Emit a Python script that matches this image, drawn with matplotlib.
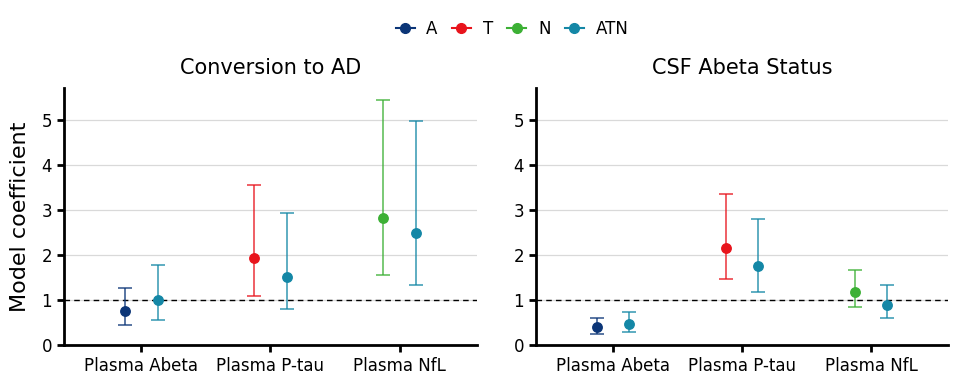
import numpy as np
import matplotlib
matplotlib.use("Agg")
import matplotlib.pyplot as plt
from matplotlib.lines import Line2D

plt.rcParams['font.family'] = ['DejaVu Sans']

markers = ["Plasma Abeta", "Plasma P-tau", "Plasma NfL"]
panels = ["Conversion to AD", "CSF Abeta Status"]
single_names = ["A", "T", "N"]

# single-marker model (A for Abeta, T for P-tau, N for NfL)
conv_single = [0.76, 1.93, 2.82]
conv_single_lo = [0.44, 1.09, 1.55]
conv_single_hi = [1.26, 3.57, 5.45]
# ATN model
conv_atn = [1.01, 1.51, 2.49]
conv_atn_lo = [0.56, 0.80, 1.33]
conv_atn_hi = [1.78, 2.95, 4.98]

csf_single = [0.40, 2.15, 1.19]
csf_single_lo = [0.24, 1.46, 0.84]
csf_single_hi = [0.60, 3.37, 1.68]
csf_atn = [0.47, 1.77, 0.90]
csf_atn_lo = [0.29, 1.19, 0.60]
csf_atn_hi = [0.74, 2.81, 1.33]

colors = {"A": "#0b3577", "T": "#e8141c", "N": "#3cb035", "ATN": "#1487a6"}

data = [
    (conv_single, conv_single_lo, conv_single_hi, conv_atn, conv_atn_lo, conv_atn_hi),
    (csf_single, csf_single_lo, csf_single_hi, csf_atn, csf_atn_lo, csf_atn_hi),
]

fig = plt.figure(figsize=(9.77, 3.91), dpi=100)
ax1 = fig.add_axes([0.0655, 0.1176, 0.4227, 0.657])
ax2 = fig.add_axes([0.5486, 0.1176, 0.4222, 0.657])

dodge = 0.125
cap = 4.7

def draw_point(ax, x, y, lo, hi, col):
    ax.errorbar([x], [y], yerr=[[y - lo], [hi - y]], fmt='none', ecolor=col,
                elinewidth=1.2, capsize=cap, capthick=1.2, alpha=0.8, zorder=3)
    ax.plot([x], [y], 'o', color=col, markersize=6.8, zorder=4)

for ax, title, d in zip([ax1, ax2], panels, data):
    s, slo, shi, a, alo, ahi = d
    x = np.arange(1, len(markers) + 1)
    for i in range(len(markers)):
        draw_point(ax, x[i] - dodge, s[i], slo[i], shi[i], colors[single_names[i]])
        draw_point(ax, x[i] + dodge, a[i], alo[i], ahi[i], colors["ATN"])
    ax.axhline(1, color='black', linestyle=(0, (4, 3)), linewidth=1, zorder=2)
    ax.set_xlim(0.4, 3.6)
    ax.set_ylim(0, 5.72)
    ax.set_xticks(x)
    ax.set_xticklabels(markers, fontsize=12)
    ax.set_yticks([0, 1, 2, 3, 4, 5])
    ax.tick_params(axis='y', labelsize=12, length=5, width=2)
    ax.tick_params(axis='x', length=5, width=2)
    ax.yaxis.grid(True, color='#d9d9d9', linewidth=0.9)
    ax.set_axisbelow(True)
    for sp in ['top', 'right']:
        ax.spines[sp].set_visible(False)
    for sp in ['left', 'bottom']:
        ax.spines[sp].set_linewidth(2)
    ax.set_title(title, fontsize=15, pad=10)

ax1.set_ylabel("Model coefficient", fontsize=16, labelpad=8)

handles = [Line2D([0], [0], color=colors[k], marker='o', markersize=7, linewidth=1.5)
           for k in ["A", "T", "N", "ATN"]]
fig.legend(handles, ["A", "T", "N", "ATN"], loc='center', bbox_to_anchor=(0.524, 0.926),
           ncol=4, frameon=False, fontsize=12, handlelength=1.15, columnspacing=0.85,
           handletextpad=0.7)

fig.savefig("out.png", dpi=100)
